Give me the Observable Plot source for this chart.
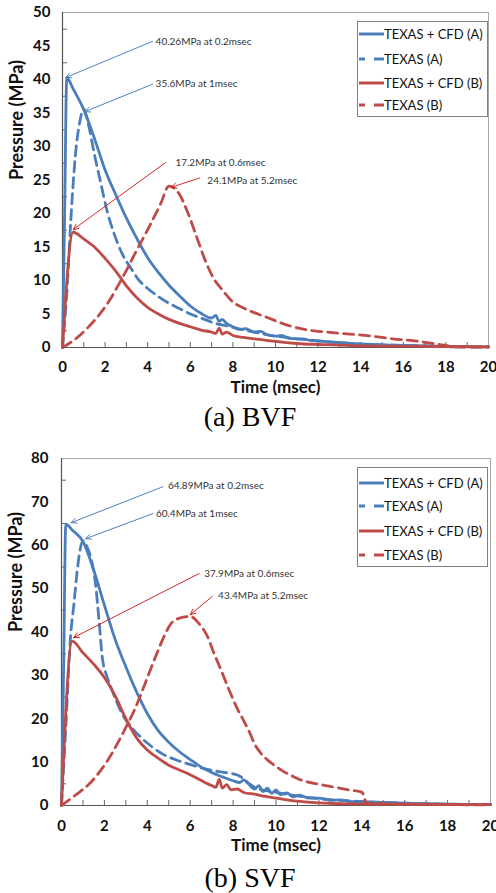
<!DOCTYPE html>
<html><head><meta charset="utf-8">
<script src="https://cdn.jsdelivr.net/npm/d3@7"></script>
<script src="https://cdn.jsdelivr.net/npm/@observablehq/plot@0.6"></script>
<style>
body{margin:0;background:#fff;}
#page{position:relative;width:496px;height:893px;overflow:hidden;font-family:Lato,"Open Sans",sans-serif;}
.chart{position:absolute;left:0;}
.chart svg{display:block;}
.legend{position:absolute;background:#fff;border:1px solid #7f7f7f;box-sizing:border-box;}
.legend .row{position:absolute;left:0;height:20px;display:flex;align-items:center;font-size:13px;color:#111;white-space:nowrap;font-family:Lato,sans-serif;}
.legend .row svg{display:block;}
.caption{position:absolute;left:150px;width:200px;text-align:center;font-family:"Liberation Serif","DejaVu Serif",serif;font-size:28px;color:#000;line-height:30px;}
</style></head><body><div id="page"></div>
<script>
// ---------- data ----------
const seriesNames = ["TEXAS + CFD (A)", "TEXAS (A)", "TEXAS + CFD (B)", "TEXAS (B)"];
const xTickLabels = [0, 2, 4, 6, 8, 10, 12, 14, 16, 18, 20];
const bvfYTickLabels = [0, 5, 10, 15, 20, 25, 30, 35, 40, 45, 50];
const svfYTickLabels = [0, 10, 20, 30, 40, 50, 60, 70, 80];
const xMinorTicks = [1, 2, 3, 4, 5, 6, 7, 8, 9, 10, 11, 12, 13, 14, 15, 16, 17, 18, 19];
const bvfYMinorTicks = [2.5, 7.5, 12.5, 17.5, 22.5, 27.5, 32.5, 37.5, 42.5, 47.5];
const svfYMinorTicks = [5, 15, 25, 35, 45, 55, 65, 75];

// (a) BVF  [time msec, pressure MPa]
const bvfCfdA = [[0,0],[0.1,20],[0.2,40.26],[0.5,38.6],[1.0,35.5],[1.5,31.2],[2.0,26.5],[2.5,22.8],[3.0,19.3],[3.5,16.2],[4.0,13.4],[4.5,11.2],[5.0,9.3],[5.5,7.7],[6.0,6.2],[6.5,5.1],[7.0,4.4],[7.2,4.8],[7.35,3.9],[7.5,4.2],[7.7,3.6],[8.0,3.1],[8.3,2.7],[8.6,2.8],[9.0,2.3],[9.3,2.4],[9.6,1.9],[10,1.7],[10.3,1.8],[10.6,1.4],[11,1.3],[11.3,1.3],[11.7,1.0],[12,1.0],[12.5,0.8],[13,0.75],[13.5,0.6],[14,0.55],[15,0.4],[16,0.3],[17,0.25],[18,0.15],[19,0.1],[20,0.1]];
const bvfTexasA = [[0,0],[0.2,8],[0.4,19.5],[0.6,28.5],[0.8,33.5],[1.0,35.6],[1.2,33.5],[1.5,28.8],[1.8,24.5],[2.1,20.3],[2.4,17.2],[2.8,14.0],[3.2,11.9],[3.6,10.0],[4.0,8.8],[4.5,7.6],[5.0,6.6],[5.5,5.8],[6.0,5.0],[6.5,4.4],[7.0,3.8],[7.3,3.5],[7.6,3.3],[8.0,3.0],[9.0,2.3],[10,1.7],[11,1.3],[12,1.0],[14,0.5],[16,0.3],[18,0.15],[20,0.1]];
const bvfCfdB = [[0,0],[0.5,17.2],[1.0,16.2],[1.5,15.0],[2.0,13.3],[2.5,11.4],[3.0,9.2],[3.5,7.4],[4.0,6.0],[4.5,5.0],[5.0,4.2],[5.5,3.6],[6.0,3.1],[6.5,2.6],[7.0,2.3],[7.2,2.1],[7.35,2.9],[7.5,2.0],[7.7,2.3],[8.0,1.8],[8.5,1.5],[9.0,1.3],[9.5,1.1],[10,0.9],[11,0.6],[12,0.45],[13,0.35],[14,0.25],[16,0.2],[18,0.15],[20,0.1]];
const bvfTexasB = [[0,0],[0.7,1.5],[1.2,3.0],[1.8,5.2],[2.2,7.0],[2.6,9.2],[3.0,11.5],[3.4,14.0],[4.0,17.6],[4.6,21.4],[5.0,24.1],[5.5,22.8],[5.9,20.0],[6.3,16.5],[6.7,13.0],[7.1,10.3],[7.5,8.6],[8.0,6.8],[8.5,5.9],[9.0,5.2],[9.6,4.5],[10.4,3.5],[11.2,2.8],[12.4,2.3],[13.5,2.0],[14.5,1.7],[15.5,1.3],[16.5,1.0],[17.4,0.6],[18.0,0.3],[18.4,0.1],[20,0.05]];
const bvfNotes = [
  {label:"40.26MPa at 0.2msec", tx:4.37, ty:45.7, ax:4.23, ay:45.7, hx:0.15, hy:40.3, color:"#4f81bd"},
  {label:"35.6MPa at 1msec",    tx:4.37, ty:39.3, ax:4.23, ay:39.3, hx:1.05, hy:35.2, color:"#4f81bd"},
  {label:"17.2MPa at 0.6msec",  tx:5.30, ty:27.6, ax:4.84, ay:27.6, hx:0.50, hy:17.6, color:"#d02828"},
  {label:"24.1MPa at 5.2msec",  tx:6.80, ty:24.9, ax:6.43, ay:25.3, hx:5.10, hy:23.9, color:"#d02828"}
];

// (b) SVF
const svfCfdA = [[0,0],[0.1,32],[0.2,64.89],[0.5,63.5],[1.0,60.9],[1.5,54.3],[2.0,46.2],[2.5,38.3],[3.0,32.0],[3.5,26.2],[4.0,21.2],[4.5,17.3],[5.0,14.6],[5.5,12.4],[6.0,10.6],[6.5,8.9],[7.0,7.6],[7.5,6.6],[8.0,5.7],[8.3,5.3],[8.5,5.9],[8.7,5.1],[9.0,3.8],[9.2,4.6],[9.4,3.2],[9.6,4.0],[9.8,2.8],[10.0,3.6],[10.2,2.5],[10.5,2.9],[10.8,2.0],[11.1,2.4],[11.5,1.7],[12,1.7],[12.5,1.2],[13,1.3],[13.5,0.9],[14,0.9],[15,0.7],[16,0.55],[17,0.4],[18,0.3],[19,0.25],[20,0.2]];
const svfTexasA = [[0,0],[0.2,18],[0.42,38.8],[0.58,46.5],[0.73,54],[0.85,58.5],[1.0,61.0],[1.2,59.5],[1.4,56.5],[1.6,50.5],[1.75,42.6],[1.9,34.2],[2.1,30.0],[2.3,27.3],[2.6,23.6],[2.9,20.5],[3.3,17.8],[3.7,15.7],[4.2,13.6],[4.7,11.9],[5.3,10.6],[5.9,9.6],[6.5,8.7],[7.0,8.1],[7.5,7.7],[8.0,7.3],[8.3,6.8],[8.6,5.6],[8.9,4.5],[9.2,3.8],[9.6,3.4],[10,3.0],[10.5,2.6],[11,2.2],[12,1.6],[13,1.2],[14,0.9],[16,0.55],[18,0.3],[20,0.2]];
const svfCfdB = [[0,0],[0.5,37.9],[1.0,35.2],[1.5,32.6],[2.0,29.5],[2.5,25.3],[3.0,20.0],[3.5,15.6],[4.0,12.8],[4.5,10.9],[5.0,9.3],[5.5,8.2],[6.0,7.1],[6.5,5.8],[7.0,4.6],[7.2,4.2],[7.35,6.0],[7.5,4.0],[7.7,4.8],[7.9,3.6],[8.2,3.8],[8.5,3.0],[9.0,2.6],[9.5,2.1],[10,1.7],[10.5,1.3],[11,1.0],[12,0.6],[13,0.4],[14,0.35],[16,0.3],[18,0.25],[20,0.2]];
const svfTexasB = [[0,0],[0.73,2.7],[1.3,5.0],[1.83,8.1],[2.2,10.8],[2.6,14.2],[3.0,18.0],[3.39,21.9],[3.85,27.5],[4.2,32.0],[4.5,35.7],[4.8,39.2],[5.1,41.9],[5.5,43.2],[6.0,43.6],[6.4,42.0],[6.82,38.8],[7.1,35.2],[7.45,31.1],[7.8,26.8],[8.2,22.3],[8.5,19.5],[8.8,16.5],[9.0,14.2],[9.3,12.0],[9.63,10.4],[10.0,9.0],[10.4,7.7],[10.8,6.7],[11.2,5.8],[12.0,4.9],[12.75,4.2],[13.4,3.6],[14.0,3.1],[14.1,2.2],[14.2,0.6],[15,0.4],[16,0.3],[18,0.2],[20,0.15]];
const svfNotes = [
  {label:"64.89MPa at 0.2msec", tx:4.96, ty:73.7, ax:4.73, ay:73.5, hx:0.45, hy:65.2, color:"#4f81bd"},
  {label:"60.4MPa at 1msec",    tx:4.40, ty:67.3, ax:4.26, ay:67.3, hx:1.12, hy:61.5, color:"#4f81bd"},
  {label:"37.9MPa at 0.6msec",  tx:6.65, ty:53.5, ax:6.42, ay:53.5, hx:0.56, hy:38.7, color:"#d02828"},
  {label:"43.4MPa at 5.2msec",  tx:7.30, ty:48.4, ax:7.03, ay:48.2, hx:6.00, hy:44.0, color:"#d02828"}
];

// ---------- drawing ----------
const BLUE = "#4a7ebb", RED = "#be4b48";
const styles = [
  {stroke: BLUE, dash: null},
  {stroke: BLUE, dash: "10,6"},
  {stroke: RED, dash: null},
  {stroke: RED, dash: "10,6"}
];
const FONT = "Lato, 'Open Sans', sans-serif";
const page = document.getElementById("page");

function makeChart(o) {
  const W = 496;
  const fh = o.height - o.mt - o.mb, fw = W - o.ml - o.mr;
  const marks = [
    Plot.frame({stroke: "#a6a6a6"}),
    Plot.tickX(xMinorTicks, {x: d => d, stroke: "#666", insetTop: fh - 5}),
    Plot.tickY(o.yMinor, {y: d => d, stroke: "#666", insetRight: fw - 5}),
    Plot.ruleX([0], {stroke: "#555", strokeWidth: 1.2}),
    Plot.ruleY([0], {stroke: "#555", strokeWidth: 1.2})
  ];
  o.series.forEach((s, i) => {
    marks.push(Plot.line(s, {x: d => d[0], y: d => d[1], stroke: styles[i].stroke, strokeWidth: 2.8,
      strokeDasharray: styles[i].dash, curve: "monotone-x"}));
  });
  marks.push(
    Plot.arrow(o.notes, {x1: "ax", y1: "ay", x2: "hx", y2: "hy", stroke: "color", strokeWidth: 1, headLength: 9, headAngle: 50}),
    Plot.text(o.notes, {x: "tx", y: "ty", text: "label", textAnchor: "start", fontSize: 10, fill: "#333", fontFamily: FONT}),
    Plot.axisX({ticks: xTickLabels, tickSize: 0, tickPadding: o.xPad, tickFormat: d => String(d), label: null,
      fontSize: 15, fontWeight: "bold", fill: "#111", fontFamily: FONT}),
    Plot.axisY({ticks: o.yTicks, tickSize: 0, tickPadding: o.yPad, tickFormat: d => String(d), label: null,
      fontSize: 15, fontWeight: "bold", fill: "#111", fontFamily: FONT}),
    Plot.text(["Pressure (MPa)"], {frameAnchor: "left", rotate: -90, dx: -45, fontSize: 18, fontWeight: "bold", fill: "#111", fontFamily: FONT}),
    Plot.text(["Time (msec)"], {frameAnchor: "bottom", dy: 45, fontSize: 17, fontWeight: "bold", fill: "#111", fontFamily: FONT})
  );
  const svg = Plot.plot({
    width: W, height: o.height,
    marginTop: o.mt, marginBottom: o.mb, marginLeft: o.ml, marginRight: o.mr,
    style: {fontFamily: FONT, background: "#fff", overflow: "visible"},
    x: {domain: [0, 20]},
    y: {domain: [0, o.yMax]},
    marks
  });
  const wrap = document.createElement("div");
  wrap.className = "chart";
  wrap.style.top = o.top + "px";
  wrap.appendChild(svg);
  page.appendChild(wrap);

  // legend
  const lg = document.createElement("div");
  lg.className = "legend";
  Object.assign(lg.style, {left: o.legend.left + "px", top: o.legend.top + "px", width: o.legend.w + "px", height: o.legend.h + "px"});
  seriesNames.forEach((name, i) => {
    const row = document.createElement("div");
    row.className = "row";
    row.style.top = (o.legend.rows[i] - 10) + "px";
    const dash = styles[i].dash ? ` stroke-dasharray="6,9,11"` : "";
    row.innerHTML = `<svg width="26" height="20"><line x1="1" x2="26" y1="10" y2="10" stroke="${styles[i].stroke}" stroke-width="3"${dash}/></svg><span>${name}</span>`;
    lg.appendChild(row);
  });
  page.appendChild(lg);

  const cap = document.createElement("div");
  cap.className = "caption";
  cap.style.top = (o.capTop) + "px";
  cap.textContent = o.caption;
  page.appendChild(cap);
}

makeChart({
  series: [bvfCfdA, bvfTexasA, bvfCfdB, bvfTexasB], notes: bvfNotes,
  yMax: 50, yTicks: bvfYTickLabels, yMinor: bvfYMinorTicks,
  top: 0, height: 400, mt: 12, mb: 53, ml: 62, mr: 8, xPad: 14, yPad: 12,
  legend: {left: 357, top: 21, w: 131, h: 96, rows: [12, 37, 61, 83]},
  caption: "(a) BVF", capTop: 402
});
makeChart({
  series: [svfCfdA, svfTexasA, svfCfdB, svfTexasB], notes: svfNotes,
  yMax: 80, yTicks: svfYTickLabels, yMinor: svfYMinorTicks,
  top: 445, height: 420, mt: 13, mb: 60, ml: 61, mr: 6, xPad: 15, yPad: 13,
  legend: {left: 357, top: 467, w: 131, h: 100, rows: [15, 38, 63, 87]},
  caption: "(b) SVF", capTop: 863
});
</script>
</body></html>
